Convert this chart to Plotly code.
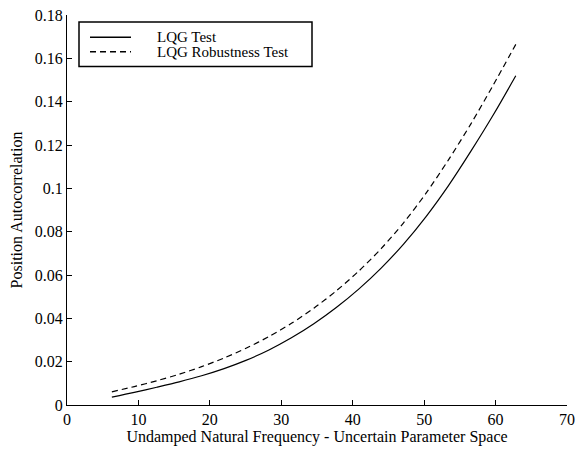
import plotly.graph_objects as go

# Undamped natural frequency (rad/s)
freq = [6.28, 9.42, 12.57, 15.71, 18.85, 21.99, 25.13, 28.27, 31.42, 34.56,
        37.70, 40.84, 43.98, 47.12, 50.27, 53.41, 56.55, 59.69, 62.83]
lqg_test = [0.0036, 0.0058, 0.0082, 0.0107, 0.0135, 0.0168, 0.0207, 0.0254, 0.0310, 0.0375,
            0.0450, 0.0535, 0.0632, 0.0743, 0.0870, 0.1013, 0.1172, 0.1340, 0.1520]
lqg_robust = [0.0061, 0.0085, 0.0112, 0.0142, 0.0177, 0.0217, 0.0263, 0.0316, 0.0377, 0.0447,
              0.0527, 0.0618, 0.0722, 0.0841, 0.0978, 0.1132, 0.1298, 0.1478, 0.1665]
names = ["LQG Test", "LQG Robustness Test"]
x_ticks = [0, 10, 20, 30, 40, 50, 60, 70]
y_ticks = [0, 0.02, 0.04, 0.06, 0.08, 0.1, 0.12, 0.14, 0.16, 0.18]
y_tick_labels = ["0", "0.02", "0.04", "0.06", "0.08", "0.1", "0.12", "0.14", "0.16", "0.18"]

FONT = "Liberation Serif, Times New Roman, serif"
dashes = ["solid", "6px,4px"]

fig = go.Figure()
for vals, nm, ds in zip([lqg_test, lqg_robust], names, dashes):
    fig.add_trace(go.Scatter(x=freq, y=vals, mode="lines", name=nm, showlegend=False,
                             line=dict(color="black", width=1.2, dash=ds,
                                       shape="spline", smoothing=0.8)))

# manual legend box
fig.add_shape(type="rect", xref="paper", yref="paper", x0=0.024, x1=0.49, y0=0.868, y1=0.982,
              line=dict(color="black", width=1.5), fillcolor="white")
for i, (nm, ds) in enumerate(zip(names, dashes)):
    yy = 0.943 - i * 0.037
    fig.add_shape(type="line", xref="paper", yref="paper", x0=0.046, x1=0.128, y0=yy, y1=yy,
                  line=dict(color="black", width=1.5, dash=ds))
    fig.add_annotation(xref="paper", yref="paper", x=0.178, y=yy, text=nm, showarrow=False,
                       xanchor="left", yanchor="middle", borderpad=0,
                       font=dict(family=FONT, size=15, color="black"))

axis_common = dict(showline=True, linecolor="black", linewidth=1, ticks="inside", ticklen=5,
                   tickcolor="black", showgrid=False, zeroline=False, mirror=False,
                   automargin=False, ticklabeloverflow="allow",
                   tickfont=dict(family=FONT, size=16, color="black"))
fig.update_xaxes(range=[0, 70.001], tickvals=x_ticks,
                 title=dict(text="Undamped Natural Frequency - Uncertain Parameter Space",
                            font=dict(family=FONT, size=16, color="black"), standoff=2),
                 **axis_common)
fig.update_yaxes(range=[0, 0.18005], tickvals=y_ticks, ticktext=y_tick_labels,
                 title=dict(text="Position Autocorrelation",
                            font=dict(family=FONT, size=16, color="black"), standoff=8),
                 **axis_common)
# page body adds an 8px offset; size/margins compensate so the plot area sits where the reference has it
fig.update_layout(width=576, height=441, margin=dict(l=59, r=17, t=7, b=44),
                  plot_bgcolor="white", paper_bgcolor="white")
fig.write_html("out.html")
